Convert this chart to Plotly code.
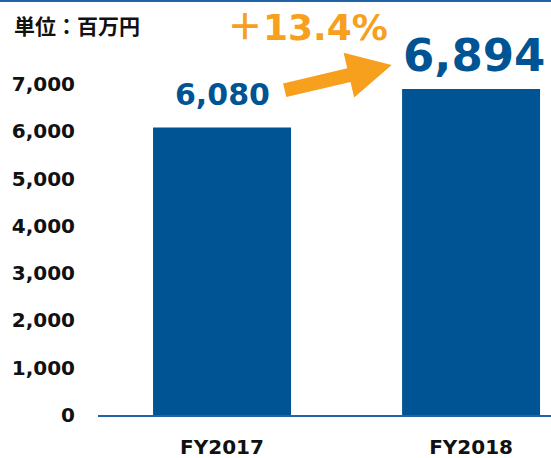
import plotly.graph_objects as go
import math

# ---- data ----
categories = ["FY2017", "FY2018"]
values = [6080, 6894]
y_tick_values = [0, 1000, 2000, 3000, 4000, 5000, 6000, 7000]
y_tick_labels = [f"{v:,}" for v in y_tick_values]
unit_label = "単位：百万円"
growth_pct = (values[1] / values[0] - 1) * 100
growth_label = f"＋{growth_pct:.1f}%"

# ---- layout geometry ----
W, H = 551, 458
L, R, T, B = 98, 0, 30, 43
pw, ph = W - L - R, H - T - B
px_per_unit = 0.04728
y_max = ph / px_per_unit

def xp(x):
    return (x - L) / pw

def yp(y):
    return (H - B - y) / ph

BAR = "#005493"
ORANGE = "#F6A01E"
FONT = "DejaVu Sans"

fig = go.Figure(
    go.Bar(x=categories, y=values, marker_color=BAR, marker_line_width=0,
           width=0.554, hoverinfo="skip")
)

# value labels
label_sizes = [30, 45]
label_shift = [33, 34]
label_xshift = [0, 3]
for c, v, s, sh, xs in zip(categories, values, label_sizes, label_shift, label_xshift):
    fig.add_annotation(x=c, y=v, text=f"{v:,}", showarrow=False, yanchor="middle",
                       xanchor="center", yshift=sh, xshift=xs,
                       font=dict(family=FONT, size=s, color=BAR, weight="bold"))

# growth label
fig.add_annotation(x=xp(307), y=yp(27), xref="paper", yref="paper", text=growth_label,
                   showarrow=False, xanchor="center", yanchor="middle",
                   font=dict(family=FONT + ", Noto Sans CJK JP", size=36, color=ORANGE, weight="bold"))

# unit label
fig.add_annotation(x=xp(12), y=yp(25), xref="paper", yref="paper", text=unit_label,
                   showarrow=False, xanchor="left", yanchor="middle",
                   font=dict(family="Noto Sans CJK JP", size=21, color="#111111", weight="bold"))

# arrow polygon (pixel geometry -> paper)
tail = (284.7, 90.3)
tip = (391.7, 65.0)
shaft_w, head_w, head_len = 14, 46, 44
dx, dy = tip[0] - tail[0], tip[1] - tail[1]
d = math.hypot(dx, dy)
ux, uy = dx / d, dy / d
nx, ny = -uy, ux
base = (tip[0] - ux * head_len, tip[1] - uy * head_len)
pts = [
    (tail[0] + nx * shaft_w / 2, tail[1] + ny * shaft_w / 2),
    (base[0] + nx * shaft_w / 2, base[1] + ny * shaft_w / 2),
    (base[0] + nx * head_w / 2, base[1] + ny * head_w / 2),
    tip,
    (base[0] - nx * head_w / 2, base[1] - ny * head_w / 2),
    (base[0] - nx * shaft_w / 2, base[1] - ny * shaft_w / 2),
    (tail[0] - nx * shaft_w / 2, tail[1] - ny * shaft_w / 2),
]
path = "M " + " L ".join(f"{xp(a):.5f},{yp(b):.5f}" for a, b in pts) + " Z"
fig.add_shape(type="path", path=path, xref="paper", yref="paper",
              fillcolor=ORANGE, line=dict(width=0), layer="above")

# thin top rule
fig.add_shape(type="line", xref="paper", yref="paper", x0=xp(0), x1=xp(W),
              y0=yp(1), y1=yp(1), line=dict(color="#1F63A8", width=2))

fig.update_layout(
    width=W, height=H,
    margin=dict(l=L, r=R, t=T, b=B, pad=0, autoexpand=False),
    plot_bgcolor="white", paper_bgcolor="white",
    showlegend=False,
    xaxis=dict(type="category", range=[-0.498, 1.321], showline=True,
               linecolor="#1F63A8", linewidth=2, ticks="", showgrid=False,
               zeroline=False, ticklabelstandoff=13, automargin=False,
               tickfont=dict(family=FONT, size=20, color="#111111", weight="bold")),
    yaxis=dict(range=[0, y_max], tickvals=y_tick_values, ticktext=y_tick_labels,
               showgrid=False, zeroline=False, showline=False, ticks="",
               ticklabelstandoff=22, automargin=False,
               tickfont=dict(family=FONT, size=20, color="#111111", weight="bold")),
)

fig.write_html("out.html", config={"displayModeBar": False},
               post_script="document.body.style.margin='0';document.body.style.overflow='hidden';")
